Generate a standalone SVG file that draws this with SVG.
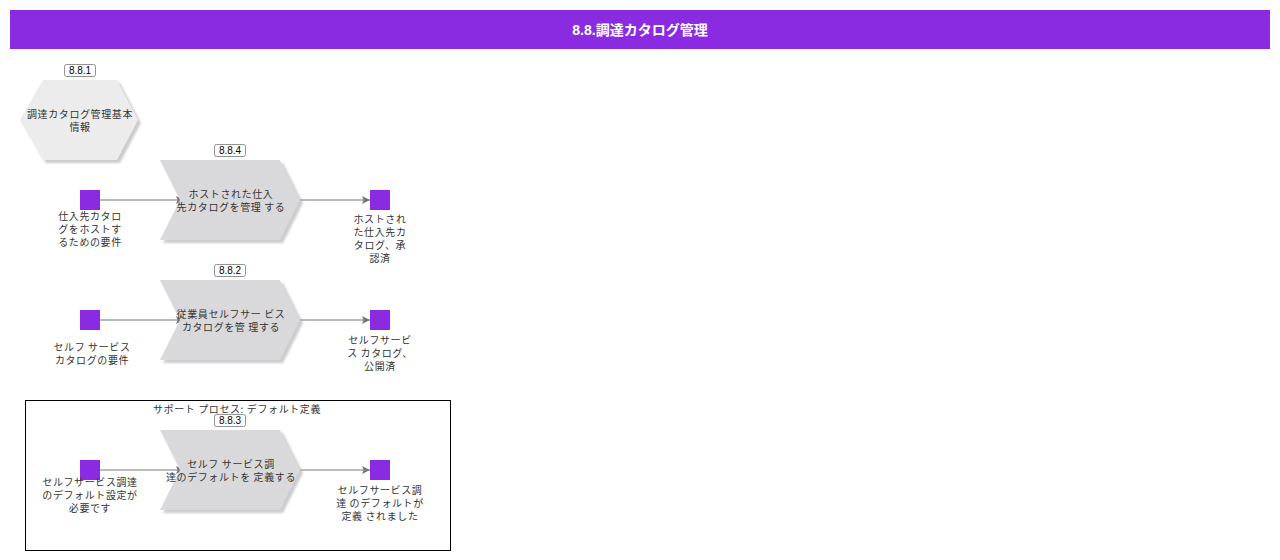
<svg xmlns="http://www.w3.org/2000/svg" width="1280" height="560" viewBox="0 0 1280 560">
<style>
.t{font-family:"Noto Sans CJK JP","Noto Sans",sans-serif;font-size:10px;fill:#333;text-anchor:middle;letter-spacing:0.6px}
.id{font-family:"Liberation Sans",Arial,sans-serif;font-size:10px;fill:#000;text-anchor:middle}
.idb{fill:#fff;stroke:#777;stroke-width:0.8}
.chev{fill:#d9d9db}
.sh{fill:#aaa;opacity:0.6}
.ev{fill:#8a2be2}
.cn{stroke:#777;stroke-width:1;fill:none;marker-end:url(#ah)}
</style>
<defs>
<filter id="blur" x="-10%" y="-10%" width="120%" height="120%"><feGaussianBlur stdDeviation="1.2"/></filter>
<marker id="ah" viewBox="0 0 10 10" refX="10" refY="5" markerWidth="12" markerHeight="8" markerUnits="userSpaceOnUse" orient="auto">
<path d="M0,0 L10,5 L0,10 L2,5 Z" fill="#777"/>
</marker>
</defs>
<rect width="1280" height="560" fill="#fff"/>
<g id="header">
<rect x="10" y="10" width="1260" height="39" fill="#8a2be2"/>
<text x="640" y="35" font-family="'Liberation Sans','Noto Sans CJK JP',sans-serif" font-size="14" font-weight="bold" fill="#fff" text-anchor="middle">8.8.調達カタログ管理</text>
</g>
<g id="group-support">
<rect x="25.5" y="400.5" width="425" height="150" fill="none" stroke="#000" stroke-width="1"/>
<text class="t" x="237" y="413">サポート プロセス: デフォルト定義</text>
</g>
<g id="connectors">
<line class="cn" x1="100" y1="200" x2="184" y2="200"/>
<line class="cn" x1="300" y1="200" x2="370" y2="200"/>
<line class="cn" x1="100" y1="320" x2="184" y2="320"/>
<line class="cn" x1="300" y1="320" x2="370" y2="320"/>
<line class="cn" x1="100" y1="470" x2="184" y2="470"/>
<line class="cn" x1="300" y1="470" x2="370" y2="470"/>
</g>
<g id="n881">
<path class="sh" filter="url(#blur)" d="M23,123 L46,83 L120,83 L141,123 L120,163 L46,163 Z"/>
<path d="M20,120 L43,80 L117,80 L138,120 L117,160 L43,160 Z" fill="#ececec"/>
<text class="t" x="80" y="118">調達カタログ管理基本</text>
<text class="t" x="80" y="131">情報</text>
<rect class="idb" x="64.5" y="64.5" width="31" height="12" rx="2"/>
<text class="id" x="80" y="74">8.8.1</text>
</g>
<g id="n884">
<path class="sh" filter="url(#blur)" d="M163,163 L283,163 L303,203 L283,243 L163,243 L183,203 Z"/>
<path class="chev" d="M160,160 L280,160 L300,200 L280,240 L160,240 L180,200 Z"/>
<text class="t" x="231" y="198">ホストされた仕入</text>
<text class="t" x="231" y="211">先カタログを管理 する</text>
<rect class="idb" x="214.5" y="144.5" width="31" height="12" rx="2"/>
<text class="id" x="230" y="154">8.8.4</text>
</g>
<g id="e1">
<rect class="ev" x="80" y="190" width="20" height="20"/>
<text class="t" x="90" y="220">仕入先カタロ</text>
<text class="t" x="90" y="233">グをホストす</text>
<text class="t" x="90" y="246">るための要件</text>
</g>
<g id="e2">
<rect class="ev" x="370" y="190" width="20" height="20"/>
<text class="t" x="380" y="223">ホストされ</text>
<text class="t" x="380" y="236">た仕入先カ</text>
<text class="t" x="380" y="249">タログ、承</text>
<text class="t" x="380" y="262">認済</text>
</g>
<g id="n882">
<path class="sh" filter="url(#blur)" d="M163,283 L283,283 L303,323 L283,363 L163,363 L183,323 Z"/>
<path class="chev" d="M160,280 L280,280 L300,320 L280,360 L160,360 L180,320 Z"/>
<text class="t" x="231" y="318">従業員セルフサー ビス</text>
<text class="t" x="231" y="331">カタログを管 理する</text>
<rect class="idb" x="214.5" y="264.5" width="31" height="12" rx="2"/>
<text class="id" x="230" y="274">8.8.2</text>
</g>
<g id="e3">
<rect class="ev" x="80" y="310" width="20" height="20"/>
<text class="t" x="92" y="351">セルフ サービス</text>
<text class="t" x="92" y="364">カタログの要件</text>
</g>
<g id="e4">
<rect class="ev" x="370" y="310" width="20" height="20"/>
<text class="t" x="380" y="344">セルフサービ</text>
<text class="t" x="380" y="357">ス カタログ、</text>
<text class="t" x="380" y="370">公開済</text>
</g>
<g id="n883">
<path class="sh" filter="url(#blur)" d="M163,433 L283,433 L303,473 L283,513 L163,513 L183,473 Z"/>
<path class="chev" d="M160,430 L280,430 L300,470 L280,510 L160,510 L180,470 Z"/>
<text class="t" x="231" y="468">セルフ サービス調</text>
<text class="t" x="231" y="481">達のデフォルトを 定義する</text>
<rect class="idb" x="214.5" y="414.5" width="31" height="12" rx="2"/>
<text class="id" x="230" y="424">8.8.3</text>
</g>
<g id="e5">
<rect class="ev" x="80" y="460" width="20" height="20"/>
<text class="t" x="90" y="486">セルフサービス調達</text>
<text class="t" x="90" y="499">のデフォルト設定が</text>
<text class="t" x="90" y="512">必要です</text>
</g>
<g id="e6">
<rect class="ev" x="370" y="460" width="20" height="20"/>
<text class="t" x="380" y="494">セルフサービス調</text>
<text class="t" x="380" y="507">達 のデフォルトが</text>
<text class="t" x="380" y="520">定義 されました</text>
</g>
</svg>
